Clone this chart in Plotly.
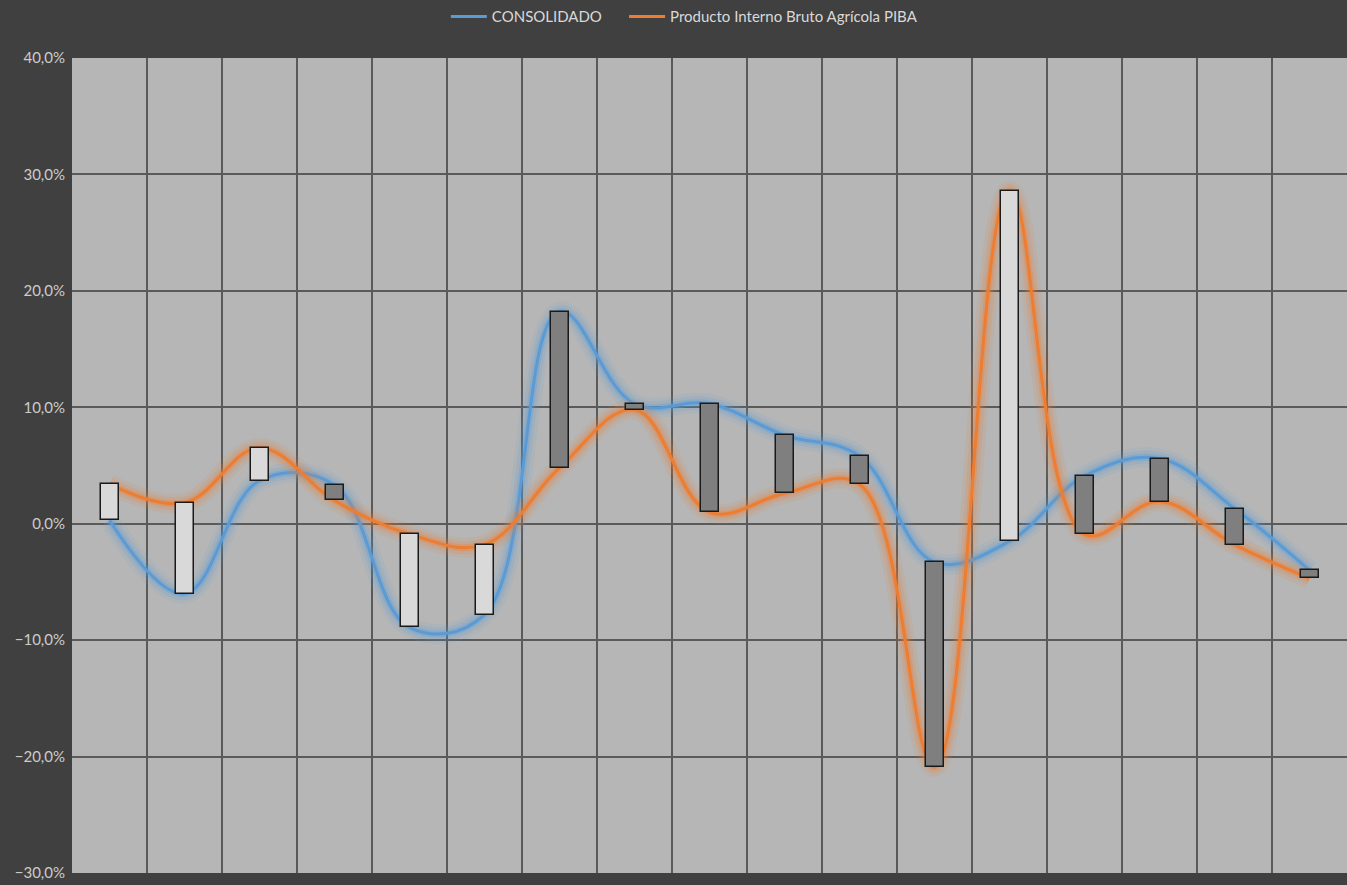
import plotly.graph_objects as go

years = [str(y) for y in range(1998, 2015)]
consolidado = [0.3, -6.0, 3.7, 3.3, -8.9, -7.8, 18.2, 10.3, 10.3, 7.6, 5.8, -3.3, -1.5, 4.1, 5.6, 1.3, -4.0]
piba = [3.4, 1.8, 6.5, 2.0, -0.9, -1.8, 4.8, 9.8, 1.0, 2.6, 3.4, -20.9, 28.6, -0.9, 1.9, -1.8, -4.7]

BLUE = "#5B9BD5"
ORANGE = "#ED7D31"
FONT = "Lato, Open Sans, sans-serif"

fig = go.Figure()

# glow layers + main lines
for name, vals, col, rgb, leg in [
    ("CONSOLIDADO", consolidado, BLUE, "91,155,213", "legend"),
    ("Producto Interno Bruto Agrícola PIBA", piba, ORANGE, "237,125,49", "legend2"),
]:
    for w, a in [(20, 0.10), (13, 0.16), (7, 0.3)]:
        fig.add_trace(go.Scatter(
            x=years, y=vals, mode="lines", showlegend=False, hoverinfo="skip",
            line=dict(color=f"rgba({rgb},{a})", width=w, shape="spline", smoothing=1.1),
        ))
    fig.add_trace(go.Scatter(
        x=years, y=vals, mode="lines", name=name, legend=leg,
        line=dict(color=col, width=3, shape="spline", smoothing=1.1),
    ))

# up/down bars
bases = [min(c, p) for c, p in zip(consolidado, piba)]
heights = [abs(p - c) for c, p in zip(consolidado, piba)]
colors = ["#D9D9D9" if p > c else "#7F7F7F" for c, p in zip(consolidado, piba)]
fig.add_trace(go.Bar(
    x=years, y=heights, base=bases, width=0.24, showlegend=False,
    marker=dict(color=colors, line=dict(color="#1a1a1a", width=1.5)),
    xaxis="x2", yaxis="y2", hoverinfo="skip",
))

# faint category labels next to the zero line
for yr in years:
    fig.add_annotation(x=yr, y=0, text=yr, showarrow=False, yanchor="top", yshift=-14,
                       font=dict(family=FONT, size=15, color="rgba(215,215,215,0.5)"))

leg_common = dict(orientation="h", xref="container", yref="container", y=0.981,
                  xanchor="left", yanchor="middle", font=dict(size=15, color="#D9D9D9"),
                  bgcolor="rgba(0,0,0,0)", itemwidth=36)

fig.update_layout(
    width=1347, height=885,
    paper_bgcolor="#404040", plot_bgcolor="#B6B6B6",
    margin=dict(l=72, r=0, t=58, b=12),
    separators=",.",
    font=dict(family=FONT, color="#D0D0D0", size=15),
    legend=dict(x=0.331, **leg_common),
    legend2=dict(x=0.4633, **leg_common),
    xaxis=dict(type="category", categoryarray=years, range=[-0.5, 16.5], showgrid=True,
               gridcolor="#5A5A5A", gridwidth=2, tickson="boundaries", showticklabels=False,
               ticks="", zeroline=False, showline=False),
    yaxis=dict(range=[-30, 40], dtick=10, tickformat=".1f", ticksuffix="%", showgrid=True,
               gridcolor="#5A5A5A", gridwidth=2, zeroline=False, showline=False,
               tickfont=dict(size=15, color="#CCCCCC"), ticks="", ticklabelstandoff=6),
    xaxis2=dict(type="category", categoryarray=years, range=[-0.5, 16.5], overlaying="x",
                visible=False),
    yaxis2=dict(range=[-30, 40], overlaying="y", visible=False),
    bargap=0,
)

fig.write_html("out.html", config={"displayModeBar": False},
               post_script="document.body.style.margin='0';document.body.style.background='#404040';")
